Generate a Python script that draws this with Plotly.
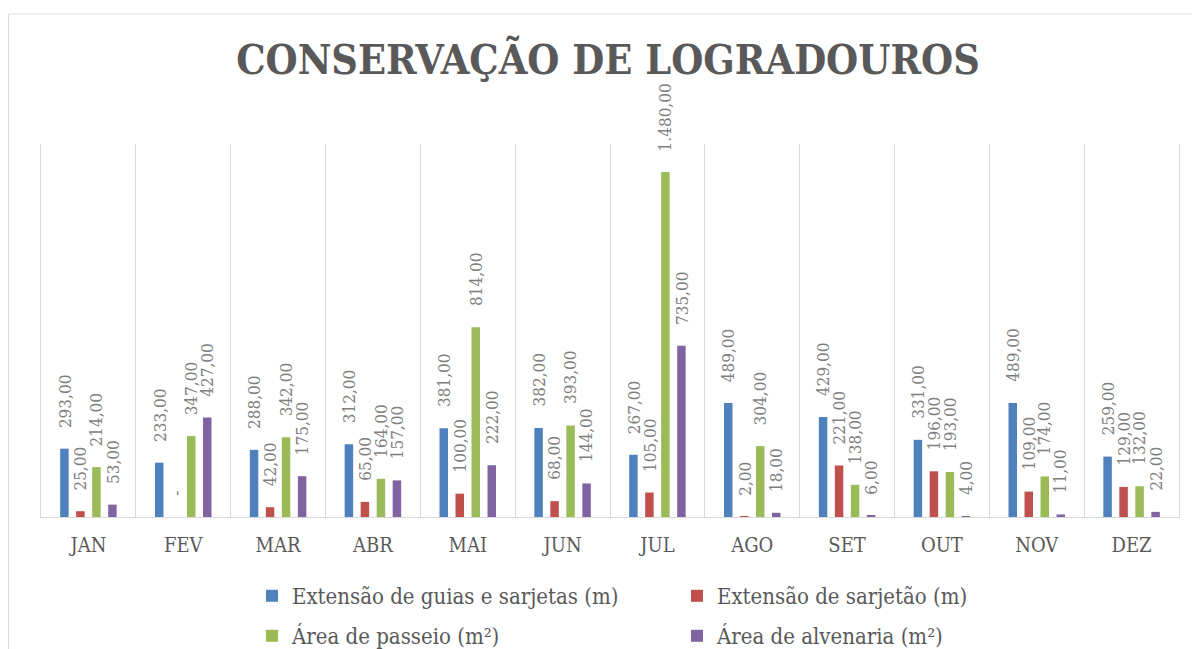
import plotly.graph_objects as go

months = ["JAN", "FEV", "MAR", "ABR", "MAI", "JUN", "JUL", "AGO", "SET", "OUT", "NOV", "DEZ"]

guias_sarjetas = [293, 233, 288, 312, 381, 382, 267, 489, 429, 331, 489, 259]
sarjetao = [25, 0, 42, 65, 100, 68, 105, 2, 221, 196, 109, 129]
passeio = [214, 347, 342, 164, 814, 393, 1480, 304, 138, 193, 174, 132]
alvenaria = [53, 427, 175, 157, 222, 144, 735, 18, 6, 4, 11, 22]

series_names = [
    "Extensão de guias e sarjetas (m)",
    "Extensão de sarjetão (m)",
    "Área de passeio (m²)",
    "Área de alvenaria (m²)",
]
series_values = [guias_sarjetas, sarjetao, passeio, alvenaria]
colors = ["#4F81BD", "#C0504D", "#9BBB59", "#8064A2"]
legend_ids = ["legend", "legend", "legend2", "legend2"]

FONT = "DejaVu Serif Condensed, DejaVu Serif, serif"


def fmt(v):
    if v == 0:
        return "-"
    s = f"{v:,.2f}"  # 1,480.00
    return s.replace(",", "X").replace(".", ",").replace("X", ".")


fig = go.Figure()
for name, vals, col, lg in zip(series_names, series_values, colors, legend_ids):
    fig.add_trace(go.Bar(
        x=months, y=vals, name=name, marker=dict(color=col, line=dict(width=0)),
        legend=lg, hoverinfo="x+y",
    ))

annotations = []
offsets = [-24, -8, 8, 24]
for vals, off in zip(series_values, offsets):
    for m, v in zip(months, vals):
        annotations.append(dict(
            x=m, y=v, xref="x", yref="y", text=fmt(v), showarrow=False,
            textangle=-90, xanchor="center", yanchor="bottom",
            xshift=off, yshift=19,
            font=dict(family=FONT, size=17, color="#7F7F7F"),
        ))

# figure is drawn inside the page body (8px offset), sized to fill the window
W, H = 1192, 641
ml, mr, mt, mb = 33, 21, 136, 132
pw, ph = W - ml - mr, H - mt - mb


def px_to_paper_x(px):
    return (px - ml) / pw


def px_to_paper_y(py):
    return (H - mb - py) / ph


fig.update_layout(
    width=W, height=H,
    margin=dict(l=ml, r=mr, t=mt, b=mb, pad=0, autoexpand=False),
    paper_bgcolor="white", plot_bgcolor="white",
    barmode="group", bargap=0.325, bargroupgap=0.47,
    title=dict(
        text="<b>CONSERVAÇÃO DE LOGRADOUROS</b>",
        font=dict(family=FONT, size=41, color="#595959"),
        x=600 / W, xref="container", xanchor="center",
        y=1 - 52 / H, yref="container", yanchor="middle",
    ),
    xaxis=dict(
        type="category", tickson="boundaries", showgrid=True, gridcolor="#D9D9D9", gridwidth=1,
        showline=True, linecolor="#D9D9D9", linewidth=1, ticks="", ticklabelstandoff=10,
        tickfont=dict(family=FONT, size=20, color="#595959"),
        range=[-0.5, 11.5], fixedrange=True,
    ),
    yaxis=dict(
        range=[0, 1600], showgrid=False, showticklabels=False, zeroline=False,
        showline=True, mirror=True, linecolor="#D9D9D9", linewidth=1, ticks="",
    ),
    legend=dict(
        orientation="h", x=px_to_paper_x(244), xanchor="left",
        y=px_to_paper_y(588), yanchor="middle", entrywidth=380, entrywidthmode="pixels",
        font=dict(family=FONT, size=22, color="#595959"), bgcolor="rgba(0,0,0,0)",
        traceorder="normal",
    ),
    legend2=dict(
        orientation="h", x=px_to_paper_x(244), xanchor="left",
        y=px_to_paper_y(628), yanchor="middle", entrywidth=380, entrywidthmode="pixels",
        font=dict(family=FONT, size=22, color="#595959"), bgcolor="rgba(0,0,0,0)",
        traceorder="normal",
    ),
    annotations=annotations,
    shapes=[dict(
        type="rect", xref="paper", yref="paper",
        x0=px_to_paper_x(0.5), x1=px_to_paper_x(1220),
        y0=px_to_paper_y(680), y1=px_to_paper_y(6),
        line=dict(color="#D9D9D9", width=1), fillcolor="rgba(0,0,0,0)", layer="below",
    )],
    showlegend=True,
)

fig.write_html("out.html")
